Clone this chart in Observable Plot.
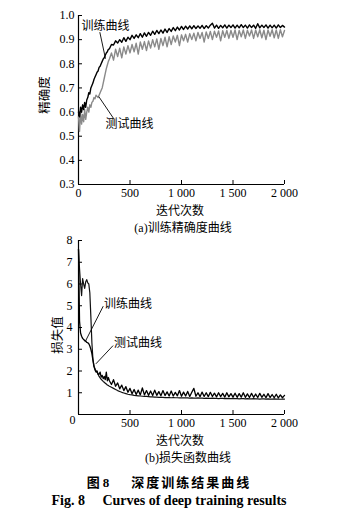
<!DOCTYPE html>
<html><head><meta charset="utf-8">
<script src="https://cdn.jsdelivr.net/npm/d3@7"></script>
<script src="https://cdn.jsdelivr.net/npm/@observablehq/plot@0.6"></script>
<style>
body{margin:0;background:#fff;}
#wrap{position:relative;width:360px;height:518px;overflow:hidden;background:#fff;font-family:"Noto Sans CJK SC",sans-serif;color:#000;}
.lbl{position:absolute;white-space:nowrap;transform:translate(-50%,-50%);line-height:1;}
.pl{position:absolute;left:0;}
</style></head><body><div id="wrap"></div>
<script>
// ---------- data ----------
const iterations = [
  0,10,20,30,40,50,60,70,80,90,
  100,110,120,130,140,150,160,170,180,190,
  200,210,220,230,240,250,260,270,280,290,
  300,320,340,360,380,400,420,440,460,480,
  500,520,540,560,580,600,620,640,660,680,
  700,720,740,760,780,800,820,840,860,880,
  900,920,940,960,980,1000,1020,1040,1060,1080,
  1100,1120,1140,1160,1180,1200,1220,1240,1260,1280,
  1300,1320,1340,1360,1380,1400,1420,1440,1460,1480,
  1500,1520,1540,1560,1580,1600,1620,1640,1660,1680,
  1700,1720,1740,1760,1780,1800,1820,1840,1860,1880,
  1900,1920,1940,1960,1980,2000
];
const accTrain = [
  0.60,0.58,0.62,0.60,0.63,0.61,0.64,0.62,0.65,0.66,
  0.68,0.675,0.70,0.71,0.72,0.735,0.745,0.755,0.765,0.77,
  0.785,0.79,0.80,0.81,0.82,0.825,0.835,0.845,0.85,0.86,
  0.862,0.88,0.878,0.895,0.886,0.90,0.889,0.908,0.893,0.91,
  0.90,0.918,0.905,0.92,0.908,0.925,0.91,0.928,0.914,0.93,
  0.918,0.935,0.922,0.938,0.925,0.94,0.927,0.944,0.93,0.946,
  0.934,0.95,0.937,0.952,0.94,0.955,0.942,0.956,0.944,0.957,
  0.945,0.958,0.946,0.957,0.947,0.959,0.946,0.958,0.948,0.96,
  0.968,0.948,0.96,0.947,0.959,0.949,0.961,0.948,0.96,0.95,
  0.961,0.948,0.96,0.949,0.962,0.95,0.96,0.948,0.961,0.95,
  0.96,0.947,0.966,0.949,0.96,0.95,0.961,0.948,0.96,0.949,
  0.96,0.948,0.961,0.95,0.959,0.952
];
const accTest = [
  0.58,0.52,0.60,0.55,0.59,0.56,0.61,0.57,0.60,0.62,
  0.60,0.63,0.62,0.64,0.645,0.66,0.655,0.67,0.665,0.66,
  0.67,0.68,0.69,0.70,0.72,0.74,0.76,0.78,0.795,0.81,
  0.82,0.845,0.815,0.86,0.83,0.865,0.825,0.87,0.84,0.875,
  0.845,0.88,0.85,0.885,0.84,0.89,0.86,0.892,0.855,0.895,
  0.865,0.90,0.87,0.903,0.86,0.905,0.875,0.91,0.87,0.912,
  0.88,0.915,0.89,0.918,0.875,0.92,0.895,0.922,0.89,0.925,
  0.90,0.927,0.895,0.93,0.905,0.93,0.89,0.932,0.905,0.934,
  0.90,0.935,0.91,0.936,0.895,0.937,0.91,0.938,0.905,0.938,
  0.91,0.94,0.90,0.938,0.912,0.94,0.905,0.939,0.915,0.94,
  0.905,0.94,0.912,0.941,0.908,0.939,0.90,0.94,0.914,0.941,
  0.908,0.94,0.905,0.941,0.912,0.938
];
const lossTrain = [
  7.6,4.3,3.75,3.6,3.5,3.45,3.4,3.38,3.32,3.3,
  3.25,3.15,3.0,2.8,2.5,2.2,2.05,1.95,2.0,1.85,
  1.85,1.95,1.72,1.8,1.65,1.75,1.6,1.95,1.55,1.7,
  1.55,1.38,1.60,1.30,1.45,1.18,1.35,1.10,1.28,1.02,
  1.20,0.95,1.15,0.92,1.12,0.90,1.22,0.90,1.10,0.88,
  1.08,0.87,1.12,0.88,1.05,0.86,1.10,0.87,1.04,0.85,
  1.08,0.85,1.02,0.86,1.10,0.84,1.03,0.85,1.06,0.83,
  1.02,1.20,0.84,1.00,0.82,1.03,0.83,1.00,0.82,1.02,
  0.83,0.98,0.81,1.00,0.82,0.97,0.80,1.00,0.81,0.96,
  0.80,0.98,0.79,0.96,0.80,1.00,0.79,0.95,0.78,0.97,
  0.79,0.94,0.78,0.97,0.79,0.93,0.77,0.96,0.78,0.92,
  0.77,0.93,0.76,0.90,0.77,0.88
];
const lossTest = [
  7.6,6.7,6.0,5.47,6.25,6.0,5.8,6.1,6.2,6.05,
  6.0,5.6,4.5,3.3,2.55,2.25,2.1,2.0,1.95,1.85,
  1.75,1.68,1.62,1.57,1.52,1.48,1.44,1.40,1.36,1.33,
  1.30,1.25,1.20,1.15,1.10,1.06,1.02,0.99,0.96,0.93,
  0.91,0.90,0.88,0.87,0.86,0.85,0.84,0.83,0.83,0.82,
  0.81,0.81,0.80,0.80,0.79,0.79,0.79,0.78,0.78,0.78,
  0.77,0.78,0.77,0.77,0.76,0.77,0.76,0.76,0.76,0.75,
  0.76,0.75,0.75,0.76,0.75,0.75,0.74,0.75,0.74,0.74,
  0.75,0.74,0.74,0.73,0.74,0.74,0.73,0.74,0.73,0.73,
  0.74,0.73,0.73,0.72,0.73,0.73,0.72,0.73,0.72,0.72,
  0.73,0.72,0.72,0.71,0.72,0.72,0.71,0.72,0.71,0.71,
  0.72,0.71,0.71,0.70,0.71,0.71
];
const xTickValues = [0, 500, 1000, 1500, 2000];
const xTickLabels = ["0", "500", "1 000", "1 500", "2 000"];
const accTicks = [0.3, 0.4, 0.5, 0.6, 0.7, 0.8, 0.9, 1.0];
const lossTicks = [1, 2, 3, 4, 5, 6, 7, 8];
const originLabel = "0";
const seriesNames = ["训练曲线", "测试曲线"];
// annotation anchors (iteration, value)
const accNotes = [
  {label: seriesNames[0], tx: 262, ty: 0.954, x1: 207, y1: 0.931, x2: 262, y2: 0.821},
  {label: seriesNames[1], tx: 495, ty: 0.548, x1: 343, y1: 0.572, x2: 197, y2: 0.664}
];
const lossNotes = [
  {label: seriesNames[0], tx: 481, ty: 5.06, x1: 240, y1: 4.98, x2: 63, y2: 3.33},
  {label: seriesNames[1], tx: 578, ty: 3.29, x1: 336, y1: 3.17, x2: 169, y2: 2.33}
];
const texts = {
  accY: "精确度", lossY: "损失值", xLabel: "迭代次数",
  capA: "(a)", capAtxt: "训练精确度曲线", capB: "(b)", capBtxt: "损失函数曲线",
  figCn1: "图", figNum: "8", figCn2: "深度训练结果曲线",
  figEn: "Fig. 8\u2003 Curves of deep training results"
};

// ---------- drawing ----------
const serif = '"Liberation Serif","Times New Roman",serif';
const cjk = '"Noto Sans CJK SC",sans-serif';
const xFmt = d => xTickLabels[xTickValues.indexOf(d)];
const wrap = document.getElementById("wrap");

const acc = iterations.map((it, i) => ({it, train: accTrain[i], test: accTest[i]}));
const loss = iterations.map((it, i) => ({it, train: lossTrain[i], test: lossTest[i]}));

const common = {
  width: 360, height: 200, marginTop: 15, marginBottom: 16, marginLeft: 78, marginRight: 76,
  style: {fontFamily: serif, fontSize: "12px", color: "#000", background: "transparent", overflow: "visible"}
};

const p1 = Plot.plot({
  ...common,
  x: {domain: [0, 2000]},
  y: {domain: [0.3, 1.0]},
  marks: [
    Plot.axisX({ticks: xTickValues, tickFormat: xFmt, tickSize: -4, tickPadding: 8, label: null}),
    Plot.axisY({ticks: accTicks, tickFormat: d3.format(".1f"), tickSize: -4, tickPadding: 8, label: null}),
    Plot.ruleX([0], {stroke: "#000", strokeWidth: 1.2}),
    Plot.ruleY([0.3], {stroke: "#000", strokeWidth: 1.2}),
    Plot.line(acc, {x: "it", y: "test", stroke: "#8a8a8a", strokeWidth: 1.4}),
    Plot.line(acc, {x: "it", y: "train", stroke: "#000", strokeWidth: 1.4}),
    Plot.link(accNotes, {x1: "x1", y1: "y1", x2: "x2", y2: "y2", stroke: "#000", strokeWidth: 0.9}),
    Plot.text(accNotes, {x: "tx", y: "ty", text: "label", fontFamily: cjk, fontSize: 12})
  ]
});
p1.classList.add("pl"); p1.style.top = "0px"; p1.style.position = "absolute";
wrap.appendChild(p1);

const p2 = Plot.plot({
  ...common,
  marginTop: 10,
  x: {domain: [0, 2000]},
  y: {domain: [0, 8]},
  marks: [
    Plot.axisX({ticks: xTickValues, tickFormat: d => d === 0 ? "" : xFmt(d), tickSize: -4, tickPadding: 8, label: null}),
    Plot.axisY({ticks: lossTicks, tickSize: -4, tickPadding: 10, label: null}),
    Plot.text([originLabel], {text: d => d, frameAnchor: "bottom-left", dx: -9, dy: 9}),
    Plot.ruleX([0], {stroke: "#000", strokeWidth: 1.2}),
    Plot.ruleY([0], {stroke: "#000", strokeWidth: 1.2}),
    Plot.line(loss, {x: "it", y: "test", stroke: "#111", strokeWidth: 1.2}),
    Plot.line(loss, {x: "it", y: "train", stroke: "#000", strokeWidth: 1.3}),
    Plot.link(lossNotes, {x1: "x1", y1: "y1", x2: "x2", y2: "y2", stroke: "#000", strokeWidth: 0.9}),
    Plot.text(lossNotes, {x: "tx", y: "ty", text: "label", fontFamily: cjk, fontSize: 12})
  ]
});
p2.classList.add("pl"); p2.style.top = "230px"; p2.style.position = "absolute";
wrap.appendChild(p2);

function place(html, cx, cy, css) {
  const d = document.createElement("div");
  d.className = "lbl";
  d.innerHTML = html;
  d.style.left = cx + "px";
  d.style.top = cy + "px";
  Object.assign(d.style, css || {});
  wrap.appendChild(d);
  return d;
}
const sp = s => `<span style="font-family:${serif.replace(/"/g, "'")}">${s}</span>`;
place(texts.accY, 44, 95, {fontSize: "12.5px", transform: "translate(-50%,-50%) rotate(-90deg)"});
place(texts.lossY, 57, 335, {fontSize: "12.5px", transform: "translate(-50%,-50%) rotate(-90deg)"});
place(texts.xLabel, 180, 210, {fontSize: "12px"});
place(sp(texts.capA) + texts.capAtxt, 183, 227, {fontSize: "12px"});
place(texts.xLabel, 180, 440, {fontSize: "12px"});
place(sp(texts.capB) + texts.capBtxt, 188, 457, {fontSize: "12px"});
place(`${texts.figCn1} ${sp(texts.figNum)}<span style="display:inline-block;width:22px"></span><span style="letter-spacing:2px">${texts.figCn2}</span>`, 169, 482, {fontSize: "13px", fontWeight: "bold"});
place(texts.figEn, 169, 501, {fontSize: "14px", fontWeight: "bold", fontFamily: serif});
</script></body></html>
